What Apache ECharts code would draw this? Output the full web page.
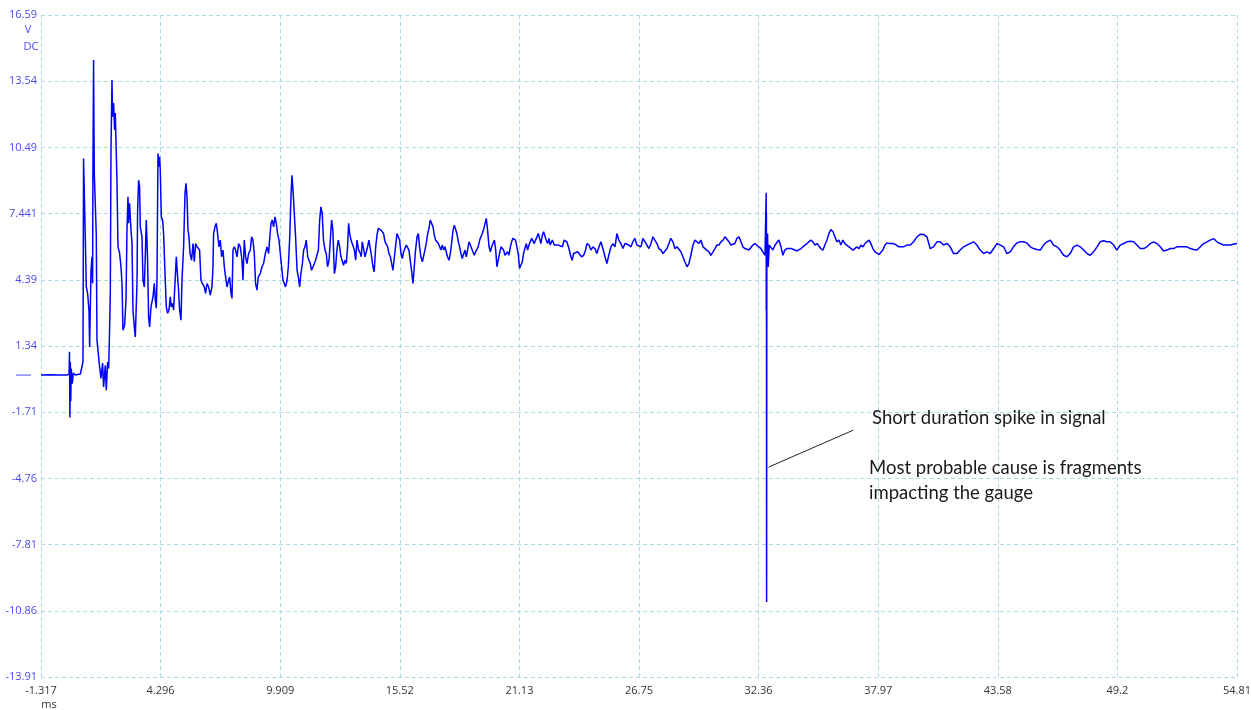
<!DOCTYPE html>
<html>
<head>
<meta charset="utf-8">
<script src="https://cdn.jsdelivr.net/npm/echarts@6/dist/echarts.min.js"></script>
<style>
  html, body { margin: 0; padding: 0; background: #fff; }
  #scope { width: 1251px; height: 710px; }
</style>
</head>
<body>
<div id="scope"></div>
<script>
// axis range (ms / V) and the tick labels printed by the scope
var xMin = -1.317, xMax = 54.81;
var yMin = -13.91, yMax = 16.59;
var xTickLabels = ['-1.317', '4.296', '9.909', '15.52', '21.13', '26.75', '32.36', '37.97', '43.58', '49.2', '54.81'];
var yTickLabels = ['-13.91', '-10.86', '-7.81', '-4.76', '-1.71', '1.34', '4.39', '7.441', '10.49', '13.54', '16.59'];

// trace, [ms, V]
var preTrigger = [[-1.317,0.0],[-0.9,0.02],[-0.5,0.0],[-0.1,0.0],[0.0,0.05],[0.02,1.07],[0.04,-1.95],[0.06,0.6],[0.08,-1.2],[0.1,0.3],[0.15,-0.4],[0.2,0.1],[0.29,0.0],[0.53,0.05],[0.61,0.02],[0.654,0.61]];

var impact = [[0.68,9.98],[0.762,6.29],[0.809,4.06],[0.871,3.76],[0.935,2.99],[0.965,1.3],[1.03,4.83],[1.076,5.45],[1.105,4.23],[1.12,9.29],[1.15,14.52],[1.184,9.29],[1.23,7.92],[1.278,6.45],[1.31,1.6],[1.357,1.15],[1.433,0.38],[1.498,-0.15],[1.574,0.55],[1.62,-0.55],[1.7,0.45],[1.747,-0.7],[1.81,0.6],[1.857,0.3],[1.904,2.16],[1.935,3.77],[1.968,10.37],[2.014,13.59],[2.043,11.9],[2.09,12.53],[2.137,11.29],[2.17,12.07],[2.25,8.84],[2.296,5.91],[2.371,5.62],[2.437,4.99],[2.484,4.23],[2.53,2.07],[2.606,2.3],[2.672,3.45],[2.718,6.68],[2.765,8.21],[2.793,7.0],[2.84,7.92],[2.906,6.68],[2.953,6.08],[3.0,2.99],[3.061,2.22],[3.108,1.76],[3.188,4.23],[3.216,7.52],[3.263,8.98],[3.31,8.67],[3.343,6.83],[3.422,6.37],[3.469,4.37],[3.53,4.06],[3.577,5.45],[3.624,7.14],[3.685,5.3],[3.732,2.68],[3.779,2.22],[3.845,3.14],[3.939,3.6],[4.0,4.23],[4.047,3.45],[4.094,3.08],[4.126,4.37],[4.173,10.21],[4.22,9.6],[4.248,10.06],[4.281,9.45],[4.328,7.29],[4.39,7.14],[4.436,6.54],[4.502,4.69],[4.563,3.14],[4.624,2.85],[4.689,2.99],[4.75,3.6],[4.797,3.14],[4.858,3.3],[4.905,2.99],[4.971,4.23],[5.032,5.45],[5.093,4.53],[5.14,3.91],[5.187,2.99],[5.253,2.53],[5.3,4.37],[5.375,5.91],[5.441,8.37],[5.487,8.83],[5.534,8.21],[5.581,6.68],[5.628,6.37],[5.675,5.62]];

var ringing = [[5.75,5.29],[5.816,6.06],[5.877,5.22],[5.938,6.06],[6.004,5.91],[6.079,5.91],[6.126,5.76],[6.19,4.37],[6.252,4.22],[6.346,4.06],[6.407,3.76],[6.473,4.22],[6.548,4.06],[6.627,3.68],[6.707,4.06],[6.754,4.99],[6.782,6.52],[6.848,6.83],[6.909,6.99],[6.97,6.52],[7.036,5.91],[7.097,6.22],[7.158,5.45],[7.224,5.76],[7.285,4.99],[7.346,4.52],[7.412,4.06],[7.487,4.37],[7.534,4.52],[7.6,3.76],[7.646,3.53],[7.693,5.76],[7.754,5.91],[7.815,5.76],[7.881,5.45],[7.956,6.06],[8.036,5.91],[8.115,5.29],[8.162,4.37],[8.223,6.22],[8.284,5.45],[8.35,5.14],[8.425,5.6],[8.505,5.76],[8.566,6.37],[8.631,6.22],[8.692,5.6],[8.753,4.22],[8.819,3.91],[8.88,4.52],[8.974,4.68],[9.054,4.99],[9.129,5.14],[9.209,5.6],[9.288,5.91],[9.363,5.6],[9.41,6.22],[9.476,6.99],[9.537,7.14],[9.598,6.83],[9.664,7.29],[9.725,6.99],[9.786,6.52],[9.852,6.22],[9.913,5.6],[9.974,4.99],[10.04,4.37],[10.1,4.22],[10.16,4.06],[10.23,4.37],[10.29,4.99],[10.35,6.22],[10.42,8.37],[10.46,9.21],[10.51,8.52],[10.57,7.45],[10.63,6.37],[10.7,4.83],[10.76,4.52],[10.82,4.06],[10.88,4.68],[10.95,5.14],[11.01,5.76],[11.07,5.91],[11.13,6.22],[11.2,5.45],[11.26,5.29],[11.32,5.14],[11.38,4.83],[11.45,4.99],[11.51,5.14],[11.57,5.29],[11.63,5.29],[11.7,5.76],[11.76,7.14],[11.82,7.75],[11.88,7.45],[11.94,6.22],[12.01,5.76],[12.07,5.6],[12.13,4.99],[12.2,5.29],[12.26,6.22],[12.32,7.14],[12.38,6.68],[12.45,4.68],[12.51,4.99],[12.57,5.76],[12.63,6.22],[12.7,5.91],[12.76,5.45],[12.82,5.52],[12.88,5.06],[12.95,5.29],[13.01,5.14],[13.07,5.91],[13.12,6.99],[13.17,6.52],[13.23,6.22],[13.32,6.22],[13.39,5.76],[13.45,5.29],[13.51,6.22],[13.59,5.76],[13.67,5.6]];

var settling = [[13.71,5.45],[13.76,6.14],[13.82,6.06],[13.89,5.45],[13.95,5.68],[14.01,5.91],[14.07,6.22],[14.14,6.3],[14.2,5.45],[14.26,4.99],[14.32,4.76],[14.39,5.91],[14.45,6.45],[14.51,6.76],[14.57,6.83],[14.64,6.68],[14.7,6.76],[14.76,6.52],[14.83,6.14],[14.89,6.22],[14.95,5.91],[15.01,5.6],[15.08,5.45],[15.14,5.14],[15.2,4.83],[15.26,4.76],[15.32,5.91],[15.39,6.52],[15.45,6.45],[15.51,6.22],[15.58,5.6],[15.64,5.37],[15.7,5.68],[15.76,5.83],[15.83,5.99],[15.89,5.91],[15.95,5.76],[16.01,5.29],[16.07,4.83],[16.14,4.22],[16.2,4.99],[16.26,5.76],[16.33,6.37],[16.39,6.52],[16.45,5.91],[16.51,5.45],[16.58,5.22],[16.64,5.29],[16.7,5.76],[16.76,6.06],[16.83,6.52],[16.89,6.76],[16.95,7.14],[17.01,7.06],[17.08,6.83],[17.14,6.45],[17.2,6.22],[17.27,6.3],[17.33,6.06],[17.39,5.91],[17.45,5.76],[17.51,5.99],[17.58,5.76],[17.64,5.91],[17.7,5.91],[17.76,5.45],[17.83,5.29],[17.89,5.6],[17.95,6.06],[18.02,6.68],[18.08,6.91],[18.14,6.83],[18.2,6.52],[18.27,6.14],[18.33,5.91],[18.39,5.6],[18.45,5.37],[18.52,5.29],[18.58,5.76],[18.64,5.45],[18.7,5.76],[18.77,6.14],[18.83,5.99],[18.89,5.91],[18.95,5.68],[19.02,5.52],[19.08,5.68],[19.14,5.6],[19.2,5.91],[19.27,6.22],[19.33,6.3],[19.39,6.52],[19.45,6.68],[19.52,6.99],[19.58,7.22],[19.64,6.68],[19.71,5.91],[19.77,5.68],[19.83,5.91],[19.89,6.06],[19.96,6.22],[20.02,5.76],[20.08,4.99],[20.14,5.06],[20.2,5.6],[20.27,5.91],[20.33,5.99],[20.39,5.76],[20.46,5.52],[20.52,5.45],[20.58,5.68],[20.64,5.52],[20.71,5.91],[20.77,6.14],[20.83,6.3],[20.89,6.37],[20.95,6.22],[21.02,6.22],[21.08,5.6],[21.14,4.91],[21.21,4.83],[21.27,5.22],[21.33,5.6],[21.39,5.83],[21.46,6.06],[21.52,5.76],[21.58,5.99],[21.64,6.14],[21.71,6.3],[21.77,6.37],[21.83,6.06],[21.89,6.22],[21.96,6.37],[22.02,6.52],[22.08,6.3],[22.14,6.06],[22.21,6.45],[22.27,6.6],[22.33,6.68],[22.39,6.22],[22.46,6.06],[22.52,6.3]];

var steady = [[22.58,5.99],[22.68,6.22],[22.77,5.99],[22.86,5.91],[22.96,5.99],[23.05,6.06],[23.15,5.91],[23.24,6.22],[23.3,6.3],[23.36,6.14],[23.46,5.83],[23.55,5.45],[23.61,5.29],[23.68,5.6],[23.77,5.68],[23.87,5.68],[23.96,5.6],[24.05,5.45],[24.15,5.52],[24.24,5.76],[24.3,6.06],[24.4,5.99],[24.49,5.76],[24.58,5.91],[24.68,5.83],[24.77,5.6],[24.87,5.91],[24.96,6.14],[25.05,5.83],[25.15,5.45],[25.24,5.14],[25.33,5.52],[25.43,5.91],[25.52,6.06],[25.62,5.91],[25.71,6.52],[25.8,6.22],[25.9,6.06],[25.99,5.83],[26.09,6.06],[26.18,6.14],[26.27,5.99],[26.37,5.91],[26.46,6.14],[26.55,6.3],[26.65,5.99],[26.74,6.06],[26.84,5.91],[26.93,6.3],[27.02,6.22],[27.12,5.99],[27.21,5.83],[27.31,6.06],[27.4,6.37],[27.49,6.45],[27.59,6.06],[27.68,5.83],[27.78,5.76],[27.87,5.6],[27.96,5.68],[28.06,5.83],[28.15,6.06],[28.24,6.3],[28.34,6.14],[28.43,5.83],[28.53,5.91],[28.62,5.83],[28.71,5.68],[28.81,5.45],[28.9,5.22],[29.0,4.99],[29.09,5.14],[29.18,5.52],[29.28,5.99],[29.37,6.22],[29.46,6.14],[29.56,6.06],[29.65,6.22],[29.75,5.91],[29.84,5.83],[29.93,5.76],[30.03,5.68],[30.12,5.52],[30.22,5.68],[30.31,5.83],[30.4,5.99],[30.5,5.99],[30.59,6.14],[30.69,6.22],[30.78,6.37],[30.87,6.3],[30.97,6.14],[31.06,5.99],[31.15,5.91],[31.25,6.06],[31.34,6.3],[31.44,6.37],[31.53,6.14],[31.62,5.91],[31.72,5.83],[31.81,5.76],[31.91,5.76],[32.0,5.83],[32.09,5.99],[32.19,6.06],[32.28,5.99],[32.37,5.91],[32.47,5.83],[32.56,5.68],[32.66,5.52]];

var spike = [[32.7,5.5],[32.715,8.4],[32.72,3.0],[32.725,7.5],[32.73,2.53],[32.735,-10.46],[32.745,5.0],[32.78,6.52],[32.81,4.98],[32.86,5.99]];

var tail = [[32.94,5.91],[33.03,5.76],[33.13,5.99],[33.22,6.06],[33.31,6.22],[33.41,5.91],[33.5,5.52],[33.59,5.76],[33.69,5.83],[33.78,5.91],[33.88,5.83],[33.97,5.83],[34.06,5.76],[34.16,5.72],[34.25,5.76],[34.35,5.83],[34.44,5.91],[34.53,5.99],[34.63,6.06],[34.72,6.14],[34.81,6.22],[34.91,6.14],[35.0,5.99],[35.1,6.06],[35.19,6.06],[35.28,5.83],[35.38,5.76],[35.47,5.99],[35.57,6.22],[35.66,6.52],[35.75,6.71],[35.85,6.6],[35.94,6.37],[36.03,6.14],[36.13,6.22],[36.22,5.99],[36.32,6.22],[36.41,6.06],[36.5,5.99],[36.6,5.91],[36.69,5.83],[36.79,5.76],[36.88,5.83],[36.97,5.91],[37.07,5.83],[37.16,5.99],[37.26,5.91],[37.35,6.06],[37.44,6.14],[37.54,6.22],[37.63,6.06],[37.72,5.83],[37.82,5.68],[37.91,5.6],[38.01,5.56],[38.1,5.52],[38.19,5.76],[38.29,5.99],[38.38,6.09],[38.48,6.06],[38.57,5.99],[38.66,6.06],[38.76,6.03],[38.85,5.99],[38.94,5.91],[39.01,5.83],[39.16,5.91],[39.32,5.99],[39.48,5.99],[39.63,6.14],[39.79,6.37],[39.94,6.49],[40.1,6.48],[40.26,6.37],[40.41,5.83],[40.57,5.91],[40.73,6.14],[40.88,6.14],[41.04,5.99],[41.2,6.06],[41.35,5.91],[41.51,5.6],[41.67,5.6],[41.82,5.76],[41.98,5.91],[42.13,5.99],[42.29,6.06],[42.45,6.14],[42.6,5.99],[42.76,5.76],[42.92,5.6],[43.07,5.68],[43.23,5.6],[43.39,5.83],[43.54,6.06],[43.7,5.99],[43.86,5.91],[44.01,5.6],[44.17,5.68],[44.32,5.91],[44.48,6.09],[44.64,6.14],[44.79,6.14],[44.95,6.09],[45.11,5.91],[45.26,5.83],[45.42,5.79],[45.58,5.76],[45.73,5.99],[45.89,6.14],[46.05,6.22],[46.2,5.99],[46.36,5.91],[46.51,5.76],[46.67,5.52],[46.83,5.45],[46.98,5.6],[47.14,5.91],[47.3,5.99],[47.45,5.91],[47.61,5.76],[47.77,5.6],[47.92,5.52],[48.08,5.68],[48.24,5.91],[48.39,6.14],[48.55,6.19],[48.7,6.14],[48.86,6.14],[49.02,5.99],[49.17,5.76],[49.33,5.99],[49.49,6.06],[49.64,6.14],[49.8,6.17],[49.96,6.14],[50.11,5.99],[50.27,5.83],[50.43,5.83],[50.58,5.91],[50.74,6.06],[50.9,6.14],[51.05,6.06],[51.21,5.91],[51.36,5.72],[51.52,5.76],[51.68,5.83],[51.83,5.83],[51.99,5.91],[52.15,5.91],[52.3,5.91],[52.46,5.91],[52.62,5.83],[52.77,5.79],[52.93,5.76],[53.09,5.91],[53.24,6.06],[53.4,6.14],[53.55,6.22],[53.71,6.29],[53.87,6.14],[54.02,6.06],[54.18,5.99],[54.34,5.99],[54.49,5.99],[54.65,6.03],[54.81,6.06]];

// pointer from the note to the spike, [ms, V]
var pointer = [[32.83, -4.24], [36.8, -2.54]];

var trace = preTrigger.concat(impact, ringing, settling, steady, spike, tail);

var chart = echarts.init(document.getElementById('scope'));
var gridColor = '#add8e6';
var labelBlue = '#4a4af0';

var option = {
  animation: false,
  backgroundColor: '#fff',
  grid: { left: 41, right: 14, top: 15, bottom: 33, outerBoundsMode: 'none' },
  xAxis: [
    { type: 'value', min: xMin, max: xMax, show: false },
    {
      type: 'value', min: 0, max: 10, interval: 1, position: 'bottom',
      axisLine: { show: false }, axisTick: { show: false },
      splitLine: { show: true, lineStyle: { color: gridColor, type: [4, 3], width: 1 } },
      axisLabel: {
        color: '#333', fontSize: 11, fontFamily: 'Open Sans', margin: 8,
        showMinLabel: true, showMaxLabel: true,
        formatter: function (v) { return xTickLabels[Math.round(v)]; }
      }
    }
  ],
  yAxis: [
    { type: 'value', min: yMin, max: yMax, show: false },
    {
      type: 'value', min: 0, max: 10, interval: 1, position: 'left',
      axisLine: { show: false }, axisTick: { show: false },
      splitLine: { show: true, lineStyle: { color: gridColor, type: [4, 3], width: 1 } },
      axisLabel: {
        color: labelBlue, fontSize: 11, fontFamily: 'Open Sans', margin: 4,
        showMinLabel: true, showMaxLabel: true,
        formatter: function (v) { return yTickLabels[Math.round(v)]; }
      }
    }
  ],
  series: [
    {
      type: 'line',
      xAxisIndex: 0,
      yAxisIndex: 0,
      data: trace,
      showSymbol: false,
      lineStyle: { color: '#0000ff', width: 1.5 },
      markLine: {
        silent: true,
        symbol: ['none', 'none'],
        label: { show: false },
        lineStyle: { color: '#222', width: 1, type: 'solid' },
        data: [[{ coord: pointer[0] }, { coord: pointer[1] }]]
      }
    }
  ]
};
chart.setOption(option);

// zero reference marker left of the axis, plus unit and note texts
var y0 = chart.convertToPixel({ yAxisIndex: 0 }, 0);
chart.setOption({
  graphic: [
    { type: 'line', shape: { x1: 16, y1: y0, x2: 31, y2: y0 }, style: { stroke: labelBlue, lineWidth: 1 } },
    { type: 'text', x: 28, y: 30, style: { text: 'V', fill: labelBlue, font: '11px "Open Sans"', align: 'center', verticalAlign: 'middle' } },
    { type: 'text', x: 31, y: 47, style: { text: 'DC', fill: labelBlue, font: '11px "Open Sans"', align: 'center', verticalAlign: 'middle' } },
    { type: 'text', x: 49, y: 705, style: { text: 'ms', fill: '#333', font: '11px "Open Sans"', align: 'center', verticalAlign: 'middle' } },
    { type: 'text', x: 872, y: 418, style: { text: 'Short duration spike in signal', fill: '#1a1a1a', font: '18.5px Lato', verticalAlign: 'middle' } },
    { type: 'text', x: 869, y: 468, style: { text: 'Most probable cause is fragments', fill: '#1a1a1a', font: '18.5px Lato', verticalAlign: 'middle' } },
    { type: 'text', x: 869, y: 493, style: { text: 'impacting the gauge', fill: '#1a1a1a', font: '18.5px Lato', verticalAlign: 'middle' } }
  ]
});
</script>
</body>
</html>
